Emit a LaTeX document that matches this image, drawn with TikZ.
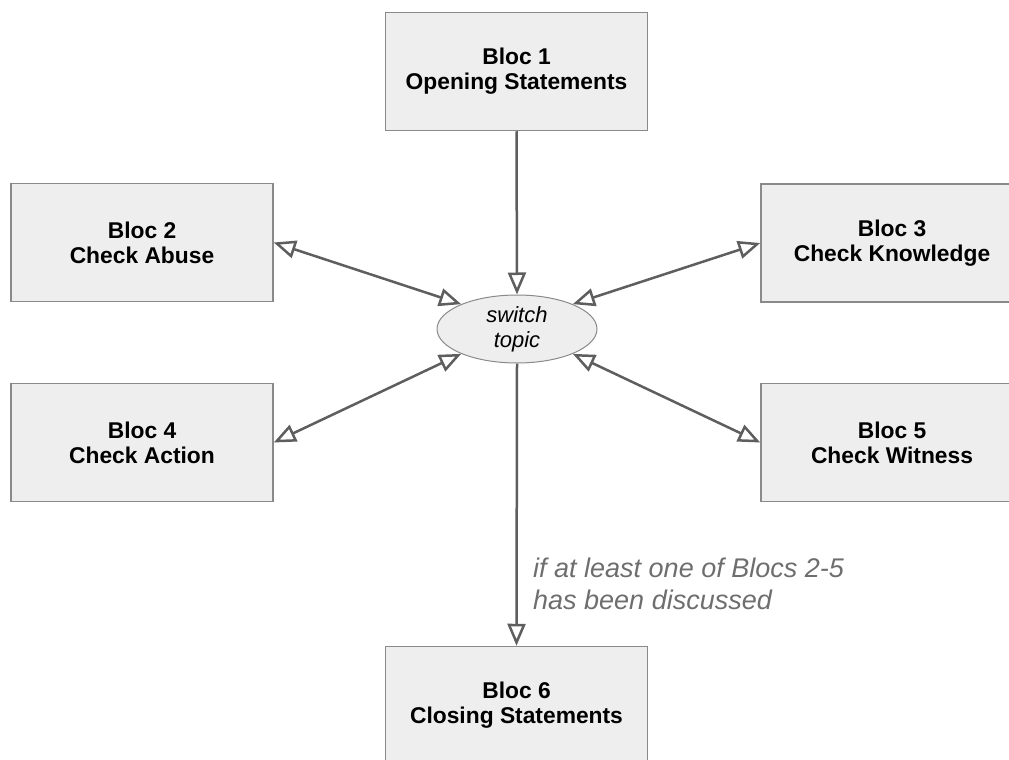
\documentclass[tikz,border=0pt]{standalone}
\usepackage{fontspec}
\setmainfont{Liberation Sans}
\usetikzlibrary{arrows.meta,shapes.geometric}
\definecolor{boxfill}{HTML}{EEEEEE}
\definecolor{boxline}{HTML}{8A8A8A}
\definecolor{arrowline}{HTML}{5E5E5E}
\definecolor{notetext}{HTML}{6E6E6E}
\newcommand{\bloc}[2]{Bloc #1\\#2}

\begin{document}
\begin{tikzpicture}[x = 1pt, y = -1pt,
    >={Triangle[open, length = 22pt, width = 18pt]},
    bloc/.style = {draw = boxline, fill = boxfill, line width = 1.5pt,
      minimum width = 262pt, minimum height = 118pt, inner sep = 0pt,
      align = center, font = \fontsize{22.8}{25}\selectfont\bfseries},
    link/.style = {draw = arrowline, line width = 2.5pt},
  ]
  \clip (0, 0) rectangle (1009, 760);
  \node (Opening)   [bloc] at (516.5, 71.5)  {\bloc{1}{Opening Statements}};
  \node (Abuse)     [bloc] at (142, 242.5)   {\bloc{2}{Check Abuse}};
  \node (Knowledge) [bloc] at (892, 243)     {\bloc{3}{Check Knowledge}};
  \node (Action)    [bloc] at (142, 442.5)   {\bloc{4}{Check Action}};
  \node (Witness)   [bloc] at (892, 442.5)   {\bloc{5}{Check Witness}};
  \node (Closing)   [bloc] at (516.5, 705.5) {\bloc{6}{Closing Statements}};
  \node (Switch) [ellipse, draw = boxline, fill = boxfill, line width = 1pt,
    minimum width = 160pt, minimum height = 68pt, inner sep = 0pt,
    align = center, font = \fontsize{22}{25}\selectfont\itshape]
    at (517, 329) {switch\\topic};

  \draw [link, ->] (Opening.south) -- (Switch.north);
  \draw [link, <->] (Abuse.east) -- (Switch.156);
  \draw [link, <->] (Knowledge.west) -- (Switch.24);
  \draw [link, <->] (Action.east) -- (Switch.204);
  \draw [link, <->] (Witness.west) -- (Switch.336);
  \draw [link, ->] (Switch.south) -- node [pos = 0.78, anchor = west,
      xshift = 12pt, align = left, text = notetext,
      font = \fontsize{27}{32}\selectfont\itshape]
    {if at least one of Blocs 2-5\\has been discussed} (Closing.north);
\end{tikzpicture}
\end{document}
